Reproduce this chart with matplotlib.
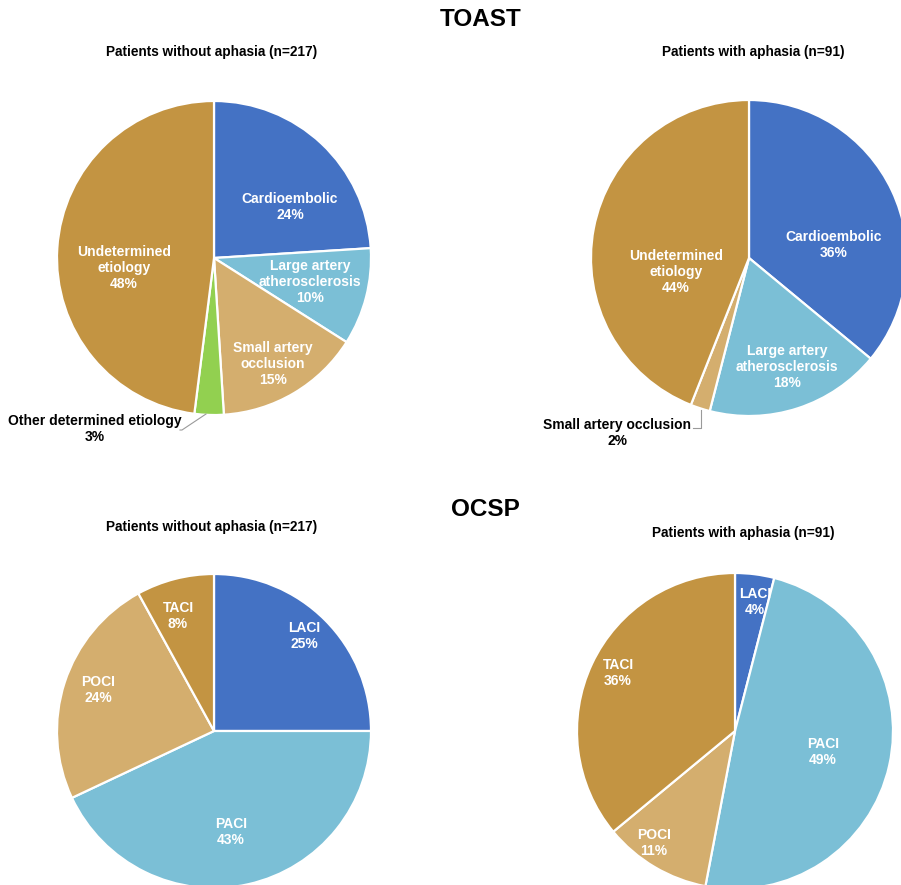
import matplotlib
matplotlib.use("Agg")
import matplotlib.pyplot as plt

plt.rcParams['font.family'] = ['Liberation Sans', 'DejaVu Sans']

# Data
toast_cats_wo = ["Cardioembolic", "Large artery\natherosclerosis", "Small artery\nocclusion",
                 "Other determined etiology", "Undetermined\netiology"]
toast_vals_wo = [24, 10, 15, 3, 48]
toast_cats_w = ["Cardioembolic", "Large artery\natherosclerosis", "Small artery occlusion",
                "Undetermined\netiology"]
toast_vals_w = [36, 18, 2, 44]
ocsp_cats = ["LACI", "PACI", "POCI", "TACI"]
ocsp_vals_wo = [25, 43, 24, 8]
ocsp_vals_w = [4, 49, 11, 36]

BLUE = "#4472C4"
LBLUE = "#7BBFD6"
TAN = "#D4AE6E"
GOLD = "#C39442"
GREEN = "#92D050"

W, H = 901, 885
fig = plt.figure(figsize=(W / 100, H / 100), dpi=100)
ax = fig.add_axes([0, 0, 1, 1])
ax.set_xlim(0, W)
ax.set_ylim(0, H)
ax.set_aspect('equal')
ax.axis('off')

LABEL_FS = 10
LSP = 1.14


def Y(py):
    return H - py


def draw_pie(vals, colors, cx, cy, r):
    ax.pie(vals, colors=colors, center=(cx, Y(cy)), radius=r, startangle=90,
           counterclock=False, wedgeprops=dict(edgecolor='white', linewidth=1.6),
           frame=True)


def inlabel(text, val, x, y):
    ax.text(x, Y(y), f"{text}\n{val}%", color='white', fontsize=LABEL_FS, fontweight='bold',
            ha='center', va='center', linespacing=LSP)


def outlabel(text, val, x, y):
    ax.text(x, Y(y), f"{text}\n{val}%", color='black', fontsize=LABEL_FS, fontweight='bold',
            ha='center', va='center', linespacing=LSP)


# TOAST, without aphasia
draw_pie(toast_vals_wo, [BLUE, LBLUE, TAN, GREEN, GOLD], 214, 258, 157)
inlabel(toast_cats_wo[0], toast_vals_wo[0], 290, 207)
inlabel(toast_cats_wo[1], toast_vals_wo[1], 310, 282)
inlabel(toast_cats_wo[2], toast_vals_wo[2], 273, 364)
inlabel(toast_cats_wo[4], toast_vals_wo[4], 124, 268)
outlabel(toast_cats_wo[3], toast_vals_wo[3], 95, 429)
ax.plot([206, 182, 180], [Y(414), Y(430), Y(430)], color='#9a9a9a', lw=0.8)

# TOAST, with aphasia
draw_pie(toast_vals_w, [BLUE, LBLUE, TAN, GOLD], 749, 258, 158)
inlabel(toast_cats_w[0], toast_vals_w[0], 834, 245)
inlabel(toast_cats_w[1], toast_vals_w[1], 787, 367)
inlabel(toast_cats_w[3], toast_vals_w[3], 676, 272)
outlabel(toast_cats_w[2], toast_vals_w[2], 617, 433)
ax.plot([701, 701, 693], [Y(410), Y(428), Y(428)], color='#9a9a9a', lw=0.8)

# OCSP, without aphasia
draw_pie(ocsp_vals_wo, [BLUE, LBLUE, TAN, GOLD], 214, 731, 157)
inlabel(ocsp_cats[0], ocsp_vals_wo[0], 304, 636)
inlabel(ocsp_cats[1], ocsp_vals_wo[1], 231, 832)
inlabel(ocsp_cats[2], ocsp_vals_wo[2], 98, 690)
inlabel(ocsp_cats[3], ocsp_vals_wo[3], 178, 616)

# OCSP, with aphasia
draw_pie(ocsp_vals_w, [BLUE, LBLUE, TAN, GOLD], 735, 731, 158)
inlabel(ocsp_cats[0], ocsp_vals_w[0], 755, 602)
inlabel(ocsp_cats[1], ocsp_vals_w[1], 823, 752)
inlabel(ocsp_cats[2], ocsp_vals_w[2], 654, 843)
inlabel(ocsp_cats[3], ocsp_vals_w[3], 618, 673)

ax.set_xlim(0, W)
ax.set_ylim(0, H)
ax.axis('off')

# Titles
ax.text(481, Y(20), "TOAST", fontsize=17.5, fontweight='bold', ha='center', va='center')
ax.text(485, Y(510), "OCSP", fontsize=17.5, fontweight='bold', ha='center', va='center')
ax.text(212, Y(52), "Patients without aphasia (n=217)", fontsize=9.8, fontweight='bold',
        ha='center', va='center')
ax.text(753, Y(52), "Patients with aphasia (n=91)", fontsize=9.8, fontweight='bold',
        ha='center', va='center')
ax.text(212, Y(527), "Patients without aphasia (n=217)", fontsize=9.8, fontweight='bold',
        ha='center', va='center')
ax.text(743, Y(533), "Patients with aphasia (n=91)", fontsize=9.8, fontweight='bold',
        ha='center', va='center')

fig.savefig("out.png", dpi=100, facecolor='white')
